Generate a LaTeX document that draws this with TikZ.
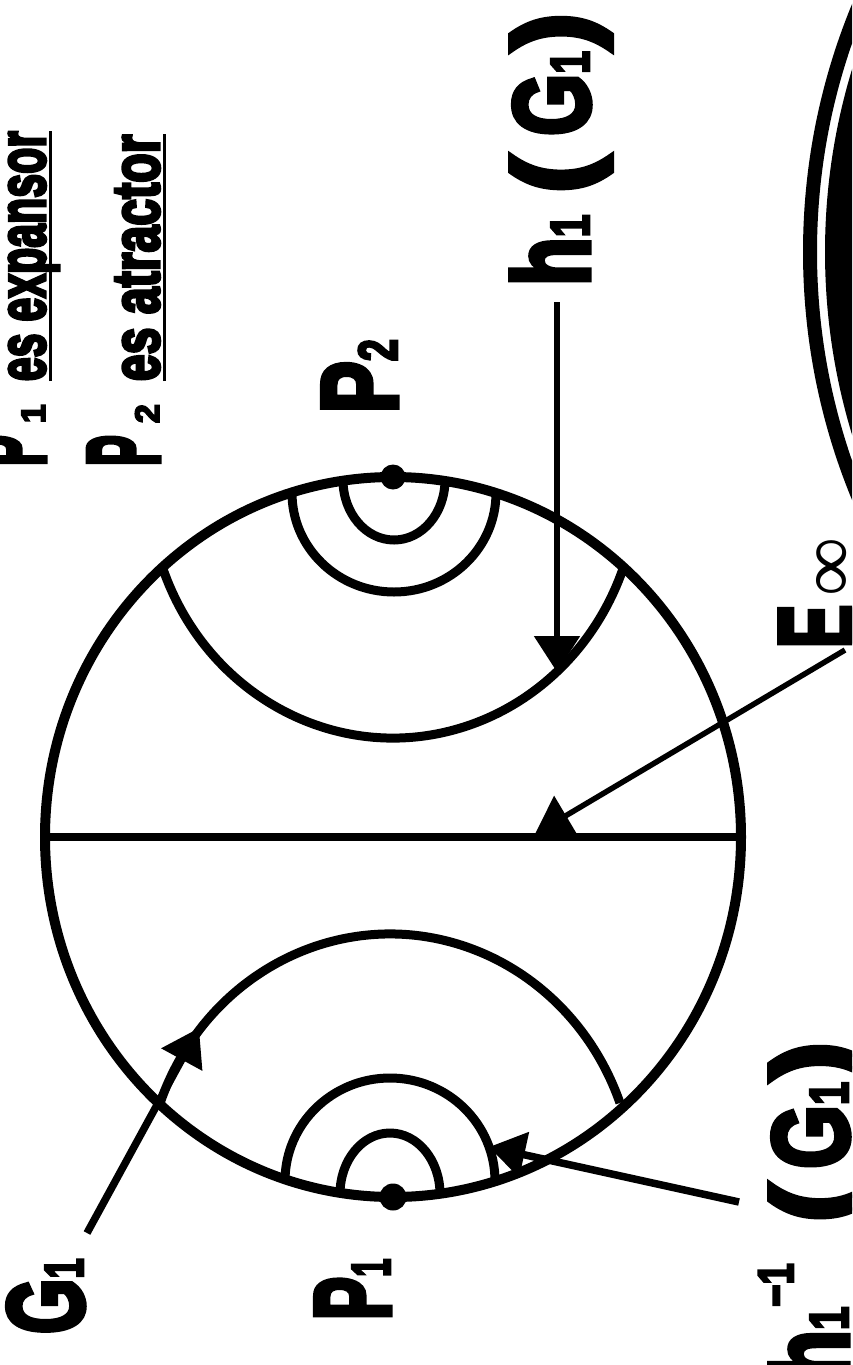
\documentclass[tikz,border=0pt]{standalone}
\usepackage{fontspec}
\usepackage{graphicx}
\usetikzlibrary{arrows.meta,shapes.geometric}
\setmainfont{Liberation Sans}[BoldFeatures={FakeBold=5}]
\newfontfamily\InfF{Liberation Serif}
\newcommand\Sq[2]{\scalebox{#1}[1]{#2}}
\newcommand\LblSize{\bfseries\fontsize{108}{108}\selectfont}
\newcommand\Dg[1]{{\fontsize{55}{55}\selectfont #1}}
\newcommand\Pa[1]{\scalebox{1.4}[1]{#1}}
\newcommand\ULword[1]{\setbox0\hbox{#1}\rlap{\rule[-7pt]{\wd0}{3pt}}\box0}
\begin{document}
\begin{tikzpicture}[x=1pt,y=1pt,
  ln/.style={line width=9pt},
  thinarrow/.style={line width=5.5pt,-{Triangle[length=36pt,width=45pt]}},
  thickarrow/.style={line width=7.5pt,-{Triangle[length=36pt,width=45pt]}},
  lbl/.style={rotate=90,inner sep=0pt,outer sep=0pt,anchor=base west,font=\bfseries},
  dot/.style={circle,fill,inner sep=0pt,minimum size=#1}]
\useasboundingbox (0,0) rectangle (852,-1365);
\fill[white] (0,0) rectangle (852,-1365);
\clip (0,0) rectangle (852,-1365);
% partial figure at the right edge
\fill (1452,-252) circle[radius=627];
\draw[line width=14pt] (1452,-252) circle[radius=642];
% main disc
\node[draw, ellipse, line width=10pt, minimum width=696pt, minimum height=720pt,
      inner sep=0pt, outer sep=0pt] (circ) at (393,-837) {};
\draw[line width=8.5pt] (circ.west) -- (circ.east);
% arcs around P2
\draw[ln] (343,-480) arc[start angle=180,end angle=360,x radius=51,y radius=60];
\draw[ln] (292,-493) arc[start angle=180,end angle=360,x radius=102,y radius=99];
\draw[ln] (162.3,-567) arc[start angle=199.7,end angle=340.3,x radius=245,y radius=258];
% arcs around P1
\draw[ln] (160.1,-1102.9) arc[start angle=159.8,end angle=20.2,x radius=245,y radius=258];
\draw[ln] (285,-1181) arc[start angle=180,end angle=0,x radius=105,y radius=103];
\draw[ln] (340,-1194) arc[start angle=180,end angle=0,x radius=50,y radius=61];
% fixed points
\node[dot=25pt] (d2) at (circ.north) {};
\node[dot=27pt] (d1) at (circ.south) {};
% labels
\node[lbl] (L1) at (45,-466) {\Sq{0.45}{\fontsize{103}{103}\selectfont P}\hspace{12pt}{\fontsize{34}{34}\selectfont 1}\hspace{23pt}\Sq{0.64}{\fontsize{67}{67}\selectfont\ULword{es expansor}}};
\node[lbl] (L2) at (159,-466) {\Sq{0.45}{\fontsize{103}{103}\selectfont P}\hspace{12pt}{\fontsize{34}{34}\selectfont 2}\hspace{23pt}\Sq{0.72}{\fontsize{67}{67}\selectfont\ULword{es atractor}}};
\node[lbl] (P2) at (397,-413) {\Sq{0.72}{\LblSize P\Dg{2}}};
\node[lbl] (P1) at (390,-1320) {\Sq{0.6}{\LblSize P\Dg{1}}};
\node[lbl] (G1) at (83,-1334) {\Sq{0.66}{\LblSize G\Dg{1}}};
\node[lbl] (hG) at (589,-286) {\Sq{0.74}{\LblSize h\Dg{1}\hspace{29pt}\Pa{(}\hspace{27pt}G\Dg{1}\hspace{1pt}\Pa{)}}};
\node[lbl] (hinv) at (848,-1380) {\Sq{0.76}{\LblSize h\Dg{1}\raisebox{55pt}{\fontsize{50}{50}\selectfont −1}\hspace{54pt}\Pa{(}\hspace{20pt}G\Dg{1}\hspace{2pt}\Pa{)}}};
\node[lbl] (Einf) at (854,-648) {\Sq{0.6}{\LblSize E}\hspace{8pt}\resizebox{59pt}{38pt}{\InfF\mdseries ∞}};
% connectors
\coordinate (hS) at (557,-302);
\coordinate (hT) at (557,-672);
\draw[thinarrow] (hS) -- (hT);
\coordinate (eS) at (845,-650);
\coordinate (eT) at (535,-834);
\draw[thinarrow] (eS) -- (eT);
\coordinate (iS) at (739,-1202);
\coordinate (iT) at (489,-1147);
\draw[thickarrow] (iS) -- (iT);
\coordinate (gS) at (87,-1233);
\coordinate (gT) at (199,-1028);
\draw[thickarrow] (gS) -- (gT);
\end{tikzpicture}
\end{document}
